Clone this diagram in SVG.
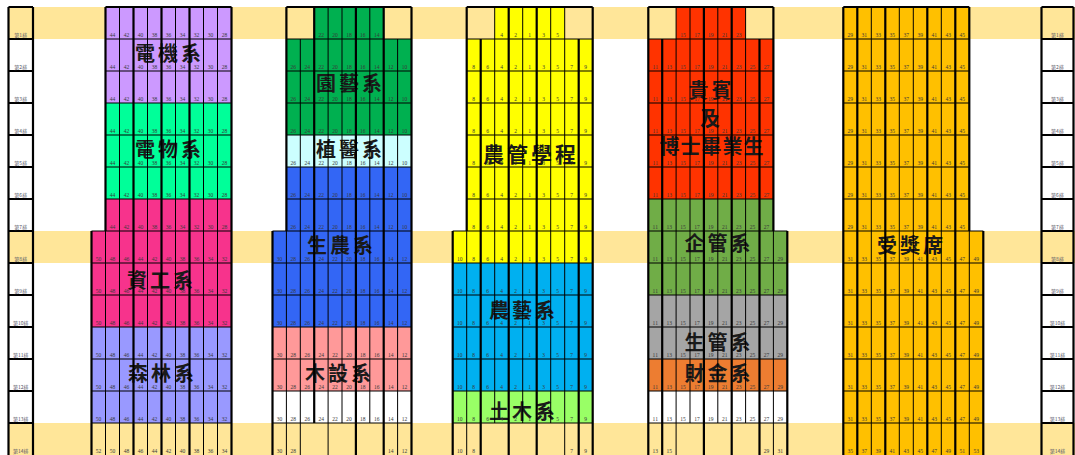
<svg xmlns="http://www.w3.org/2000/svg" width="1075" height="455" viewBox="0 0 1075 455">
<style>
.thin{stroke:#000;stroke-width:1;fill:none}
.hl{stroke:#000;stroke-width:1.2;fill:none}
.thick{stroke:#000;stroke-width:2.2;fill:none}
.n{font-family:"Liberation Serif",serif;font-size:5.5px;fill:#3a3a3a;text-anchor:middle}
.lb{font-family:"Noto Sans CJK TC",sans-serif;font-size:20px;font-weight:700;fill:#1a1a1a;text-anchor:middle;letter-spacing:3px}
.rl{font-family:"Noto Sans CJK TC",sans-serif;font-size:5px;fill:#556;text-anchor:middle}
.band{fill:#FFE699}
</style>
<defs>
<text id="n1a" class="n"><tspan x="112.5">44</tspan><tspan x="126.5">42</tspan><tspan x="140.5">40</tspan><tspan x="154.5">38</tspan><tspan x="168.5">36</tspan><tspan x="182.5">34</tspan><tspan x="196.5">32</tspan><tspan x="210.5">30</tspan><tspan x="224.5">28</tspan></text>
<text id="n1b" class="n"><tspan x="98.5">50</tspan><tspan x="112.5">48</tspan><tspan x="126.5">46</tspan><tspan x="140.5">44</tspan><tspan x="154.5">42</tspan><tspan x="168.5">40</tspan><tspan x="182.5">38</tspan><tspan x="196.5">36</tspan><tspan x="210.5">34</tspan><tspan x="224.5">32</tspan></text>
<text id="n1c" class="n"><tspan x="98.5">52</tspan><tspan x="112.5">50</tspan><tspan x="126.5">48</tspan><tspan x="140.5">46</tspan><tspan x="154.5">44</tspan><tspan x="168.5">42</tspan><tspan x="182.5">40</tspan><tspan x="196.5">38</tspan><tspan x="210.5">36</tspan><tspan x="224.5">34</tspan></text>
<text id="n2r" class="n"><tspan x="321.15">22</tspan><tspan x="335.05">20</tspan><tspan x="348.95">18</tspan><tspan x="362.85">16</tspan><tspan x="376.75">14</tspan></text>
<text id="n2a" class="n"><tspan x="293.35">26</tspan><tspan x="307.25">24</tspan><tspan x="321.15">22</tspan><tspan x="335.05">20</tspan><tspan x="348.95">18</tspan><tspan x="362.85">16</tspan><tspan x="376.75">14</tspan><tspan x="390.65">12</tspan><tspan x="404.55">10</tspan></text>
<text id="n2b" class="n"><tspan x="279.45">30</tspan><tspan x="293.35">28</tspan><tspan x="307.25">26</tspan><tspan x="321.15">24</tspan><tspan x="335.05">22</tspan><tspan x="348.95">20</tspan><tspan x="362.85">18</tspan><tspan x="376.75">16</tspan><tspan x="390.65">14</tspan><tspan x="404.55">12</tspan></text>
<text id="n2c" class="n"><tspan x="279.45">30</tspan><tspan x="293.35">28</tspan><tspan x="390.65">14</tspan><tspan x="404.55">12</tspan></text>
<text id="n3r" class="n"><tspan x="501.7">4</tspan><tspan x="515.7">2</tspan><tspan x="529.7">1</tspan><tspan x="543.7">3</tspan><tspan x="557.7">5</tspan></text>
<text id="n3a" class="n"><tspan x="473.7">8</tspan><tspan x="487.7">6</tspan><tspan x="501.7">4</tspan><tspan x="515.7">2</tspan><tspan x="529.7">1</tspan><tspan x="543.7">3</tspan><tspan x="557.7">5</tspan><tspan x="571.7">7</tspan><tspan x="585.7">9</tspan></text>
<text id="n3b" class="n"><tspan x="459.7">10</tspan><tspan x="473.7">8</tspan><tspan x="487.7">6</tspan><tspan x="501.7">4</tspan><tspan x="515.7">2</tspan><tspan x="529.7">1</tspan><tspan x="543.7">3</tspan><tspan x="557.7">5</tspan><tspan x="571.7">7</tspan><tspan x="585.7">9</tspan></text>
<text id="n3c" class="n"><tspan x="459.7">10</tspan><tspan x="473.7">8</tspan><tspan x="571.7">7</tspan><tspan x="585.7">9</tspan></text>
<text id="n4r" class="n"><tspan x="683.05">15</tspan><tspan x="696.95">17</tspan><tspan x="710.85">19</tspan><tspan x="724.75">21</tspan><tspan x="738.65">23</tspan></text>
<text id="n4a" class="n"><tspan x="655.25">11</tspan><tspan x="669.15">13</tspan><tspan x="683.05">15</tspan><tspan x="696.95">17</tspan><tspan x="710.85">19</tspan><tspan x="724.75">21</tspan><tspan x="738.65">23</tspan><tspan x="752.55">25</tspan><tspan x="766.45">27</tspan></text>
<text id="n4b" class="n"><tspan x="655.25">11</tspan><tspan x="669.15">13</tspan><tspan x="683.05">15</tspan><tspan x="696.95">17</tspan><tspan x="710.85">19</tspan><tspan x="724.75">21</tspan><tspan x="738.65">23</tspan><tspan x="752.55">25</tspan><tspan x="766.45">27</tspan><tspan x="780.35">29</tspan></text>
<text id="n4c" class="n"><tspan x="655.25">13</tspan><tspan x="669.15">15</tspan><tspan x="766.45">29</tspan><tspan x="780.35">31</tspan></text>
<text id="n5a" class="n"><tspan x="850.3">29</tspan><tspan x="864.3">31</tspan><tspan x="878.3">33</tspan><tspan x="892.3">35</tspan><tspan x="906.3">37</tspan><tspan x="920.3">39</tspan><tspan x="934.3">41</tspan><tspan x="948.3">43</tspan><tspan x="962.3">45</tspan></text>
<text id="n5b" class="n"><tspan x="850.3">31</tspan><tspan x="864.3">33</tspan><tspan x="878.3">35</tspan><tspan x="892.3">37</tspan><tspan x="906.3">39</tspan><tspan x="920.3">41</tspan><tspan x="934.3">43</tspan><tspan x="948.3">45</tspan><tspan x="962.3">47</tspan><tspan x="976.3">49</tspan></text>
<text id="n5c" class="n"><tspan x="850.3">35</tspan><tspan x="864.3">37</tspan><tspan x="878.3">39</tspan><tspan x="892.3">41</tspan><tspan x="906.3">43</tspan><tspan x="920.3">45</tspan><tspan x="934.3">47</tspan><tspan x="948.3">49</tspan><tspan x="962.3">51</tspan><tspan x="976.3">53</tspan></text>
</defs>
<rect width="1075" height="455" fill="#fff"/>
<g id="bands">
<rect class="band" x="8" y="7" width="1067" height="32"/>
<rect class="band" x="8" y="231" width="1067" height="32"/>
<rect class="band" x="8" y="423" width="1067" height="32"/>
</g>
<g id="dianji"><rect x="105.5" y="7" width="126" height="96" fill="#CC99FF"/><text class="lb" x="169.5" y="61">電機系</text></g>
<g id="dianwu"><rect x="105.5" y="103" width="126" height="96" fill="#00FF99"/><text class="lb" x="169.5" y="157">電物系</text></g>
<g id="zigong"><rect x="105.5" y="199" width="126" height="32" fill="#F7338C"/><rect x="91.5" y="231" width="140" height="96" fill="#F7338C"/><text class="lb" x="161.5" y="288">資工系</text></g>
<g id="senlin"><rect x="91.5" y="327" width="140" height="96" fill="#9999FF"/><text class="lb" x="162.5" y="381">森林系</text></g>
<g id="s1row14"><rect x="91.5" y="423" width="140" height="32" fill="#FFE699"/></g>
<g id="yuanyi"><rect x="314.2" y="7" width="69.5" height="32" fill="#00B050"/><rect x="286.4" y="39" width="125.1" height="96" fill="#00B050"/><text class="lb" x="350.5" y="91">園藝系</text></g>
<g id="zhiyi"><rect x="286.4" y="135" width="125.1" height="32" fill="#CCFFFF"/><text class="lb" x="350.5" y="157">植醫系</text></g>
<g id="shengnong"><rect x="286.4" y="167" width="125.1" height="64" fill="#3366F5"/><rect x="272.5" y="231" width="139" height="96" fill="#3366F5"/><text class="lb" x="341.5" y="253">生農系</text></g>
<g id="mushe"><rect x="272.5" y="327" width="139" height="64" fill="#FF9999"/><text class="lb" x="339.5" y="381">木設系</text></g>
<g id="s2row13"><rect x="272.5" y="391" width="139" height="32" fill="#fff"/></g>
<g id="nongguan"><rect x="494.7" y="7" width="70" height="32" fill="#FFFF00"/><rect x="466.7" y="39" width="126" height="192" fill="#FFFF00"/><rect x="452.7" y="231" width="140" height="32" fill="#FFFF00"/><text class="lb" x="531" y="162" style="font-size:21px">農管學程</text></g>
<g id="nongyi"><rect x="452.7" y="263" width="140" height="128" fill="#00B0F0"/><text class="lb" x="523.5" y="318">農藝系</text></g>
<g id="tumu"><rect x="452.7" y="391" width="140" height="32" fill="#99FF66"/><text class="lb" x="523.5" y="419">土木系</text></g>
<g id="guibin"><rect x="676.1" y="7" width="69.5" height="32" fill="#FF3300"/><rect x="648.3" y="39" width="125.1" height="160" fill="#FF3300"/><text class="lb" x="711.5" y="98">貴賓</text><text class="lb" x="711.5" y="126">及</text><text class="lb" x="712" y="154" style="letter-spacing:1px">博士畢業生</text></g>
<g id="qiguan"><rect x="648.3" y="199" width="125.1" height="32" fill="#70AD47"/><rect x="648.3" y="231" width="139" height="64" fill="#70AD47"/><text class="lb" x="719" y="251">企管系</text></g>
<g id="shengguan"><rect x="648.3" y="295" width="139" height="64" fill="#A5A5A5"/><text class="lb" x="719" y="350">生管系</text></g>
<g id="caijin"><rect x="648.3" y="359" width="139" height="32" fill="#ED7D31"/><text class="lb" x="719" y="381">財金系</text></g>
<g id="s4row13"><rect x="648.3" y="391" width="139" height="32" fill="#fff"/></g>
<g id="shoujiang"><rect x="843.3" y="7" width="126" height="224" fill="#FFC000"/><rect x="843.3" y="231" width="140" height="224" fill="#FFC000"/><text class="lb" x="911.5" y="253">受獎席</text></g>
<g id="rowlabels-left">
<g fill="#fff"><rect x="8.5" y="39" width="24.5" height="192"/><rect x="8.5" y="263" width="24.5" height="160"/></g>
<path class="thick" d="M8.5 7V455M33 7V455M8.5 7H33M8.5 39H33M8.5 71H33M8.5 103H33M8.5 135H33M8.5 167H33M8.5 199H33M8.5 231H33M8.5 263H33M8.5 295H33M8.5 327H33M8.5 359H33M8.5 391H33M8.5 423H33"/>
<g class="rl"><text x="20.75" y="37">第1排</text><text x="20.75" y="69">第2排</text><text x="20.75" y="101">第3排</text><text x="20.75" y="133">第4排</text><text x="20.75" y="165">第5排</text><text x="20.75" y="197">第6排</text><text x="20.75" y="229">第7排</text><text x="20.75" y="261">第8排</text><text x="20.75" y="293">第9排</text><text x="20.75" y="325">第10排</text><text x="20.75" y="357">第11排</text><text x="20.75" y="389">第12排</text><text x="20.75" y="421">第13排</text><text x="20.75" y="453">第14排</text></g>
</g>
<g id="rowlabels-right">
<g fill="#fff"><rect x="1041.5" y="39" width="32" height="192"/><rect x="1041.5" y="263" width="32" height="160"/></g>
<path class="thick" d="M1041.5 7V455M1073.5 7V455M1041.5 7H1073.5M1041.5 39H1073.5M1041.5 71H1073.5M1041.5 103H1073.5M1041.5 135H1073.5M1041.5 167H1073.5M1041.5 199H1073.5M1041.5 231H1073.5M1041.5 263H1073.5M1041.5 295H1073.5M1041.5 327H1073.5M1041.5 359H1073.5M1041.5 391H1073.5M1041.5 423H1073.5"/>
<g class="rl"><text x="1057.5" y="37">第1排</text><text x="1057.5" y="69">第2排</text><text x="1057.5" y="101">第3排</text><text x="1057.5" y="133">第4排</text><text x="1057.5" y="165">第5排</text><text x="1057.5" y="197">第6排</text><text x="1057.5" y="229">第7排</text><text x="1057.5" y="261">第8排</text><text x="1057.5" y="293">第9排</text><text x="1057.5" y="325">第10排</text><text x="1057.5" y="357">第11排</text><text x="1057.5" y="389">第12排</text><text x="1057.5" y="421">第13排</text><text x="1057.5" y="453">第14排</text></g>
</g>
<g id="connectors">
<path class="hl" d="M105.5 39H231.5M105.5 71H231.5M105.5 103H231.5M105.5 135H231.5M105.5 167H231.5M105.5 199H231.5M91.5 231H231.5M91.5 263H231.5M91.5 295H231.5M91.5 327H231.5M91.5 359H231.5M91.5 391H231.5M91.5 423H231.5"/>
<path class="thin" d="M119.5 7V455M147.5 7V455M175.5 7V455M203.5 7V455M217.5 7V455M105.5 231V455"/>
<path class="thick" d="M133.5 7V455M161.5 7V455M189.5 7V455M105.5 7V231M91.5 231V455M231.5 7V455M105.5 7H231.5"/>
<path class="hl" d="M286.4 39H411.5M286.4 71H411.5M286.4 103H411.5M286.4 135H411.5M286.4 167H411.5M286.4 199H411.5M272.5 231H411.5M272.5 263H411.5M272.5 295H411.5M272.5 327H411.5M272.5 359H411.5M272.5 391H411.5M272.5 423H411.5"/>
<path class="thin" d="M328.1 7V455M342 7V423M369.8 7V423M300.3 39V455M397.6 39V455M286.4 231V455"/>
<path class="thick" d="M314.2 7V423M355.9 7V455M383.7 7V455M286.4 7V231M272.5 231V455M411.5 7V455M286.4 7H411.5"/>
<path class="hl" d="M466.7 39H592.7M466.7 71H592.7M466.7 103H592.7M466.7 135H592.7M466.7 167H592.7M466.7 199H592.7M452.7 231H592.7M452.7 263H592.7M452.7 295H592.7M452.7 327H592.7M452.7 359H592.7M452.7 391H592.7M452.7 423H592.7"/>
<path class="thin" d="M494.7 7V423M522.7 7V423M550.7 7V423M564.7 7V455M466.7 231V455"/>
<path class="thick" d="M480.7 39V455M508.7 7V455M536.7 7V455M578.7 39V455M466.7 7V231M452.7 231V455M592.7 7V455M466.7 7H592.7"/>
<path class="hl" d="M648.3 39H773.4M648.3 71H773.4M648.3 103H773.4M648.3 135H773.4M648.3 167H773.4M648.3 199H773.4M648.3 231H787.3M648.3 263H787.3M648.3 295H787.3M648.3 327H787.3M648.3 359H787.3M648.3 391H787.3M648.3 423H787.3"/>
<path class="thin" d="M676.1 7V455M690 7V423M717.8 7V423M745.6 7V423M773.4 231V455"/>
<path class="thick" d="M662.2 39V455M703.9 7V455M731.7 7V455M759.5 39V455M648.3 7V455M773.4 7V231M787.3 231V455M648.3 7H773.4"/>
<path class="hl" d="M843.3 39H969.3M843.3 71H969.3M843.3 103H969.3M843.3 135H969.3M843.3 167H969.3M843.3 199H969.3M843.3 231H983.3M843.3 263H983.3M843.3 295H983.3M843.3 327H983.3M843.3 359H983.3M843.3 391H983.3M843.3 423H983.3"/>
<path class="thin" d="M871.3 7V455M899.3 7V455M913.3 7V455M941.3 7V455M969.3 231V455"/>
<path class="thick" d="M857.3 7V455M885.3 7V455M927.3 7V455M955.3 7V455M843.3 7V455M969.3 7V231M983.3 231V455M843.3 7H969.3"/>
</g>
<g id="numbers">
<use href="#n1a" y="37"/><use href="#n1a" y="69"/><use href="#n1a" y="101"/><use href="#n1a" y="133"/><use href="#n1a" y="165"/><use href="#n1a" y="197"/><use href="#n1a" y="229"/>
<use href="#n1b" y="261"/><use href="#n1b" y="293"/><use href="#n1b" y="325"/><use href="#n1b" y="357"/><use href="#n1b" y="389"/><use href="#n1b" y="421"/><use href="#n1c" y="453"/>
<use href="#n2r" y="37"/><use href="#n2a" y="69"/><use href="#n2a" y="101"/><use href="#n2a" y="133"/><use href="#n2a" y="165"/><use href="#n2a" y="197"/><use href="#n2a" y="229"/>
<use href="#n2b" y="261"/><use href="#n2b" y="293"/><use href="#n2b" y="325"/><use href="#n2b" y="357"/><use href="#n2b" y="389"/><use href="#n2b" y="421"/><use href="#n2c" y="453"/>
<use href="#n3r" y="37"/><use href="#n3a" y="69"/><use href="#n3a" y="101"/><use href="#n3a" y="133"/><use href="#n3a" y="165"/><use href="#n3a" y="197"/><use href="#n3a" y="229"/>
<use href="#n3b" y="261"/><use href="#n3b" y="293"/><use href="#n3b" y="325"/><use href="#n3b" y="357"/><use href="#n3b" y="389"/><use href="#n3b" y="421"/><use href="#n3c" y="453"/>
<use href="#n4r" y="37"/><use href="#n4a" y="69"/><use href="#n4a" y="101"/><use href="#n4a" y="133"/><use href="#n4a" y="165"/><use href="#n4a" y="197"/><use href="#n4a" y="229"/>
<use href="#n4b" y="261"/><use href="#n4b" y="293"/><use href="#n4b" y="325"/><use href="#n4b" y="357"/><use href="#n4b" y="389"/><use href="#n4b" y="421"/><use href="#n4c" y="453"/>
<use href="#n5a" y="37"/><use href="#n5a" y="69"/><use href="#n5a" y="101"/><use href="#n5a" y="133"/><use href="#n5a" y="165"/><use href="#n5a" y="197"/><use href="#n5a" y="229"/>
<use href="#n5b" y="261"/><use href="#n5b" y="293"/><use href="#n5b" y="325"/><use href="#n5b" y="357"/><use href="#n5b" y="389"/><use href="#n5b" y="421"/><use href="#n5c" y="453"/>
</g>
</svg>
